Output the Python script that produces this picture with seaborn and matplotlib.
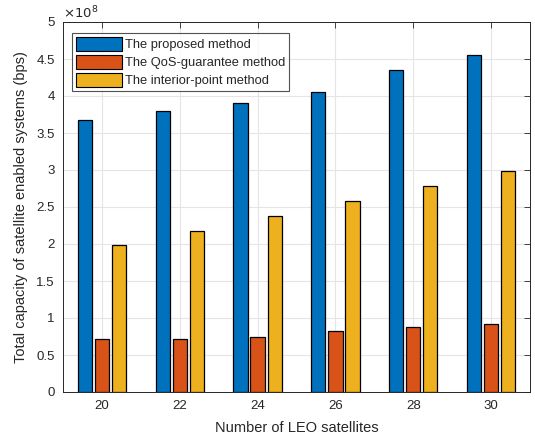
import matplotlib
matplotlib.use("Agg")
import matplotlib.pyplot as plt
import seaborn as sns
import pandas as pd
from matplotlib.ticker import FixedLocator, FuncFormatter

# Number of LEO satellites
satellites = ["20", "22", "24", "26", "28", "30"]
# Total capacity (bps) per method
proposed = [3.67e8, 3.80e8, 3.90e8, 4.05e8, 4.35e8, 4.56e8]
qos_guarantee = [0.71e8, 0.72e8, 0.74e8, 0.83e8, 0.88e8, 0.92e8]
interior_point = [1.98e8, 2.18e8, 2.38e8, 2.58e8, 2.78e8, 2.98e8]
methods = ["The proposed method", "The QoS-guarantee method", "The interior-point method"]
yticks = [0, 0.5e8, 1e8, 1.5e8, 2e8, 2.5e8, 3e8, 3.5e8, 4e8, 4.5e8, 5e8]

df = pd.DataFrame({
    "sat": satellites * 3,
    "cap": proposed + qos_guarantee + interior_point,
    "method": [methods[0]] * 6 + [methods[1]] * 6 + [methods[2]] * 6,
})

sns.set_theme(style="white")
plt.rcParams["font.family"] = ["Liberation Sans", "DejaVu Sans"]

fig = plt.figure(figsize=(5.35, 4.41), dpi=100)
ax = fig.add_axes([63 / 535, 1 - 392 / 441, 467 / 535, 370 / 441])

palette = ["#0072BD", "#D95319", "#EDB120"]
sns.barplot(data=df, x="sat", y="cap", hue="method", order=satellites,
            hue_order=methods, palette=palette, width=0.66, gap=0.17,
            edgecolor="black", linewidth=0.9, saturation=1, ax=ax, zorder=3)

ax.set_xlim(-0.5, 5.5)
ax.set_ylim(0, 5e8)
ax.yaxis.set_major_locator(FixedLocator(yticks))
ax.yaxis.set_major_formatter(FuncFormatter(lambda v, p: f"{v / 1e8:g}"))
ax.text(0.0, 1.003, r"$\times10^{8}$", transform=ax.transAxes, ha="left",
        va="bottom", fontsize=9.5, color="#262626")

ax.grid(True, color="#e5e5e5", linewidth=0.8, zorder=0)
ax.set_axisbelow(True)
for s in ax.spines.values():
    s.set_visible(True)
    s.set_color("#262626")
    s.set_linewidth(0.7)
ax.tick_params(direction="in", length=4, width=0.6, color="#262626",
               top=True, right=True, labelsize=9.5, labelcolor="#262626",
               pad=6)

ax.set_xlabel("Number of LEO satellites", fontsize=10.5, color="#262626", labelpad=6)
ax.set_ylabel("Total capacity of satellite enabled systems (bps)", fontsize=10.5,
              color="#262626", labelpad=6)

leg = ax.legend(loc="upper left", bbox_to_anchor=(0.012, 0.98), fontsize=9.3,
                frameon=True, fancybox=False, edgecolor="#262626",
                handlelength=3.5, handleheight=1.25, handletextpad=0.25,
                labelspacing=0.3, borderpad=0.3, borderaxespad=0.3, title=None)
leg.get_frame().set_linewidth(0.8)
for h in leg.legend_handles:
    h.set_edgecolor("black")
    h.set_linewidth(0.8)

fig.savefig("out.png", dpi=100)
